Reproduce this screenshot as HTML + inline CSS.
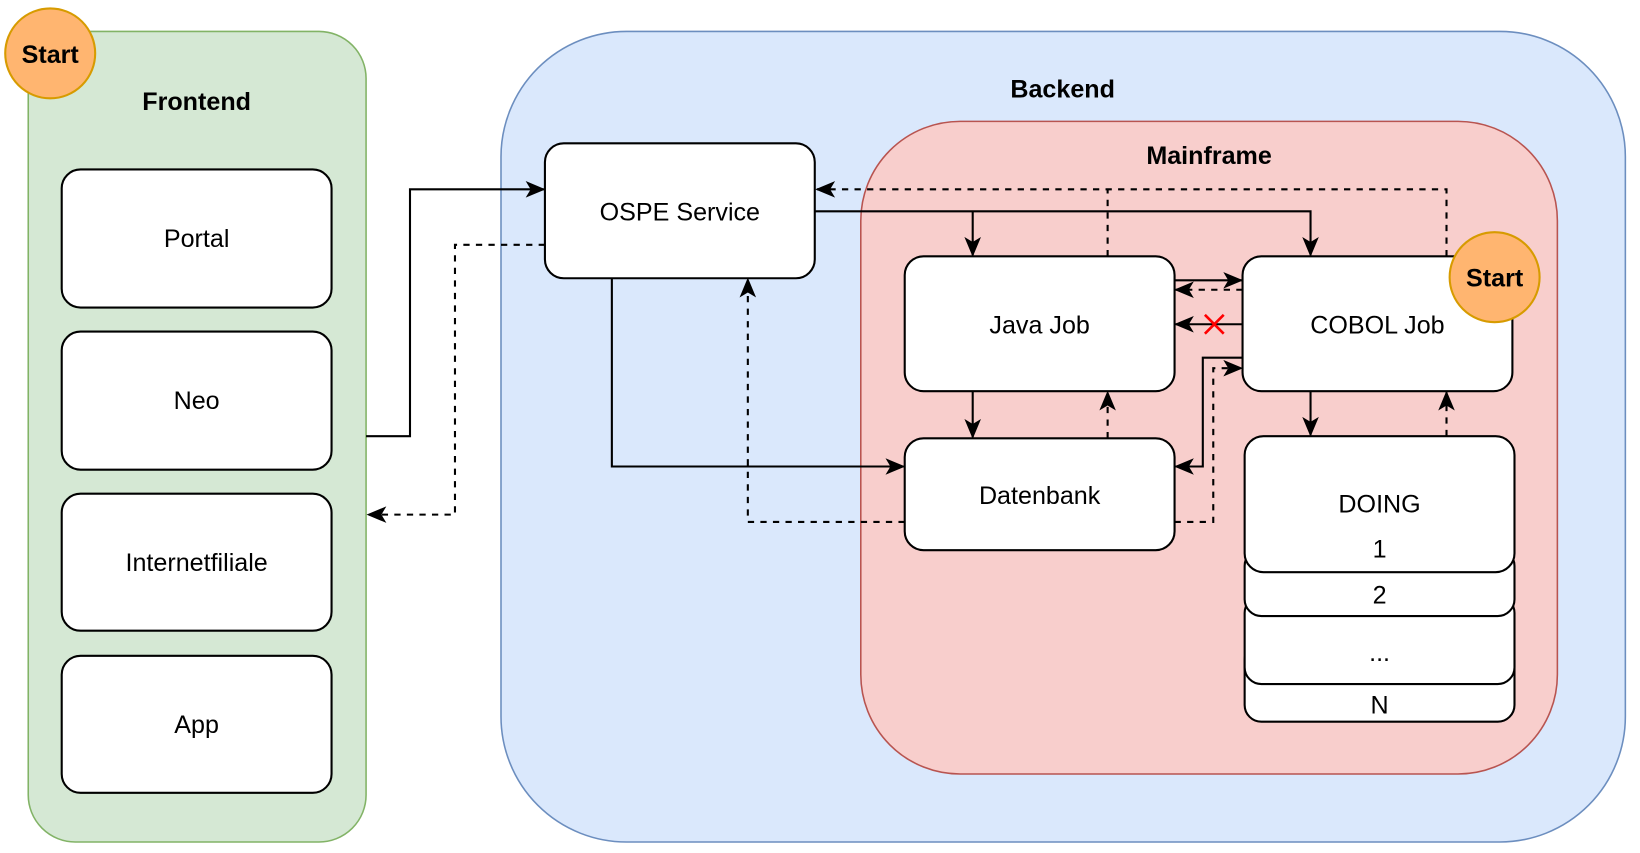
<!DOCTYPE html>
<html><head><meta charset="utf-8"><style>html,body{margin:0;padding:0;background:#fff}svg{display:block}</style></head>
<body>
<svg width="1640" height="853" viewBox="0 0 1568 815.5" xmlns="http://www.w3.org/2000/svg" font-family="Liberation Sans, Helvetica, sans-serif">
<defs>
<marker id="a" viewBox="0 0 12 10" refX="11" refY="5" markerWidth="19" markerHeight="16" markerUnits="userSpaceOnUse" orient="auto"><path d="M0,0 L12,5 L0,10 L3,5 Z" fill="#000"/></marker>
</defs>
<rect x="27" y="30" width="323" height="775" rx="45" fill="#d5e8d4" stroke="#82b366" stroke-width="1.5"/>
<rect x="479" y="30" width="1075" height="775" rx="120" fill="#dae8fc" stroke="#6c8ebf" stroke-width="1.5"/>
<rect x="823" y="116" width="666" height="624" rx="95" fill="#f8cecc" stroke="#b85450" stroke-width="1.5"/>
<g fill="#fff" stroke="#000" stroke-width="2">
<rect x="59" y="162" width="258" height="132" rx="18"/>
<rect x="59" y="317" width="258" height="132" rx="18"/>
<rect x="59" y="472" width="258" height="131" rx="18"/>
<rect x="59" y="627" width="258" height="131" rx="18"/>
<rect x="521" y="137" width="258" height="129" rx="18"/>
<rect x="865" y="245" width="258" height="129" rx="18"/>
<rect x="1188" y="245" width="258" height="129" rx="18"/>
<rect x="865" y="419" width="258" height="107" rx="18"/>
<rect x="1190" y="615" width="258" height="75" rx="16"/>
<rect x="1190" y="570" width="258" height="84" rx="16"/>
<rect x="1190" y="525" width="258" height="64" rx="16"/>
<rect x="1190" y="417" width="258" height="130" rx="18"/>
</g>
<g font-size="24" text-anchor="middle" fill="#000">
<text x="188" y="236">Portal</text>
<text x="188" y="391">Neo</text>
<text x="188" y="546">Internetfiliale</text>
<text x="188" y="701">App</text>
<text x="650" y="211">OSPE Service</text>
<text x="994" y="319">Java Job</text>
<text x="1317" y="319">COBOL Job</text>
<text x="994" y="482">Datenbank</text>
<text x="1319" y="490">DOING</text>
<text x="1319" y="533">1</text>
<text x="1319" y="577">2</text>
<text x="1319" y="632">...</text>
<text x="1319" y="682">N</text>
</g>
<g font-size="24" font-weight="bold" text-anchor="middle">
<text x="188" y="105">Frontend</text>
<text x="1016" y="93">Backend</text>
<text x="1156" y="157">Mainframe</text>
</g>
<g fill="none" stroke="#000" stroke-width="2">
<path d="M350,417 H392 V181 H520" marker-end="url(#a)"/>
<path d="M585,266 V446 H864" marker-end="url(#a)"/>
<path d="M779,202 H1253 V244" marker-end="url(#a)"/>
<path d="M930,202 V244" marker-end="url(#a)"/>
<path d="M1123,268 H1187" marker-end="url(#a)"/>
<path d="M1188,310 H1124" marker-end="url(#a)"/>
<path d="M1188,342 H1150 V446 H1124" marker-end="url(#a)"/>
<path d="M930,374 V418" marker-end="url(#a)"/>
<path d="M1253,374 V416" marker-end="url(#a)"/>
</g>
<g fill="none" stroke="#000" stroke-width="2" stroke-dasharray="6,6">
<path d="M521,234 H435 V492 H352" marker-end="url(#a)"/>
<path d="M865,499 H715 V267" marker-end="url(#a)"/>
<path d="M1059,245 V181"/>
<path d="M1383,245 V181 H781" marker-end="url(#a)"/>
<path d="M1188,277 H1124" marker-end="url(#a)"/>
<path d="M1123,499 H1160 V352 H1187" marker-end="url(#a)"/>
<path d="M1059,419 V375" marker-end="url(#a)"/>
<path d="M1383,417 V375" marker-end="url(#a)"/>
</g>
<path d="M1152,301 L1170,319 M1170,301 L1152,319" stroke="#ff0000" stroke-width="2.5"/>
<ellipse cx="48" cy="51" rx="43" ry="43" fill="#ffb570" stroke="#d79b00" stroke-width="2"/>
<ellipse cx="1429" cy="265" rx="43" ry="43" fill="#ffb570" stroke="#d79b00" stroke-width="2"/>
<g font-size="24" font-weight="bold" text-anchor="middle">
<text x="48" y="60">Start</text>
<text x="1429" y="274">Start</text>
</g>
</svg>
</body></html>
